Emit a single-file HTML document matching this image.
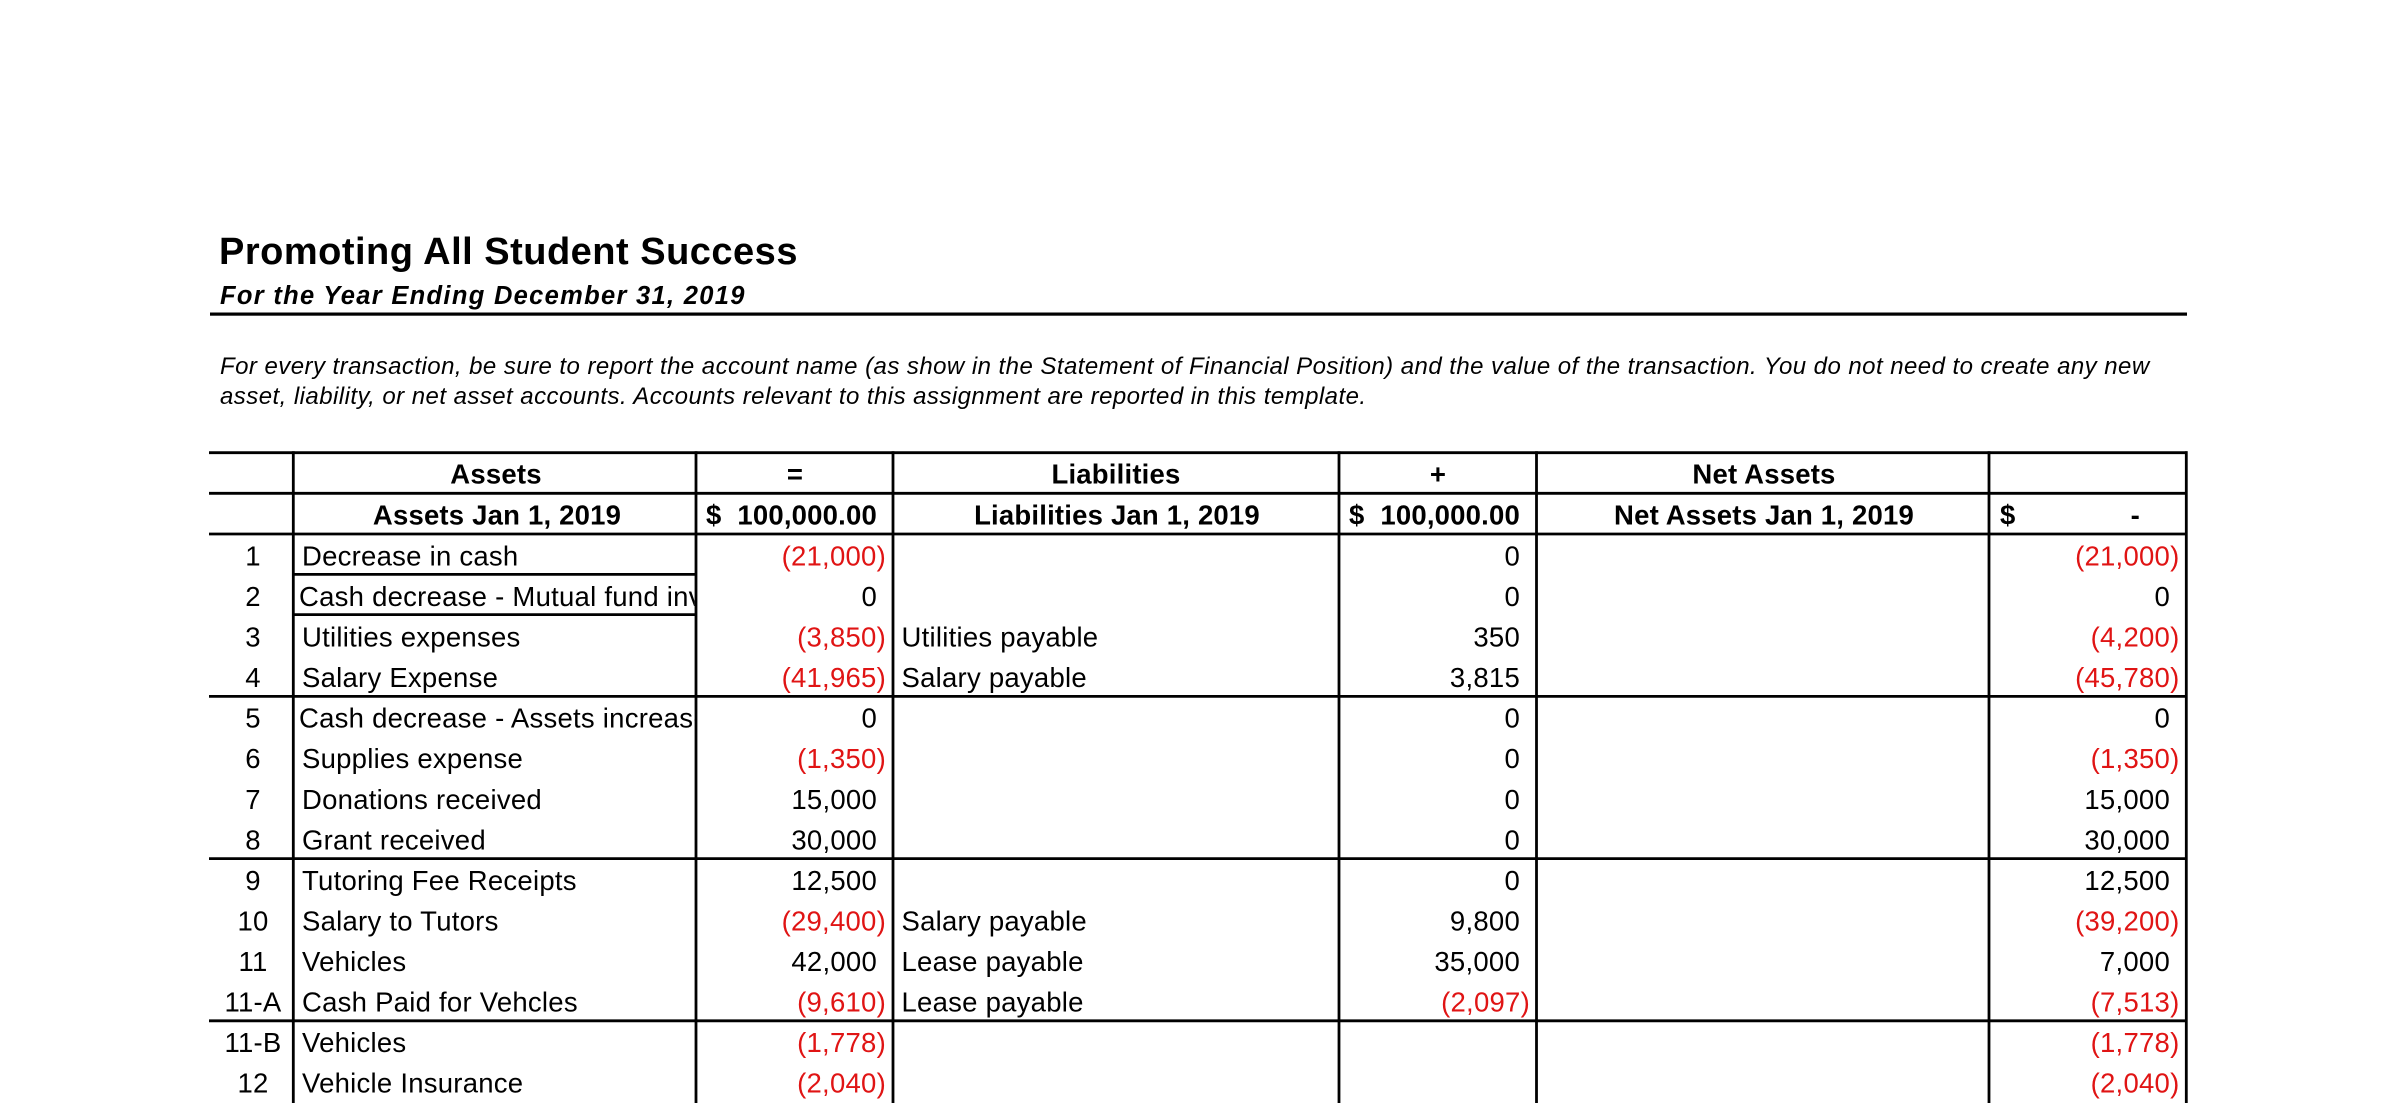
<!DOCTYPE html>
<html>
<head>
<meta charset="utf-8">
<style>
  html, body { margin: 0; padding: 0; background: #fff; }
  svg { display: block; }
  text { font-family: "Liberation Sans", Arial, sans-serif; fill: #000; }
  .t { font-size: 38px; font-weight: bold; letter-spacing: 0.5px; }
  .st { font-size: 25.5px; font-weight: bold; font-style: italic; letter-spacing: 1.3px; }
  .ins { font-size: 24px; font-style: italic; letter-spacing: 0.45px; }
  .h { font-size: 27.5px; font-weight: bold; letter-spacing: 0.2px; }
  .b { font-size: 27.5px; letter-spacing: 0.25px; }
  .r { fill: #e01414; }
  .m { text-anchor: middle; }
  .e { text-anchor: end; }
</style>
</head>
<body>
<svg width="2397" height="1103" viewBox="0 0 2397 1103" xmlns="http://www.w3.org/2000/svg">
  <defs>
    <clipPath id="lab"><rect x="295" y="440" width="399.5" height="700"/></clipPath>
  </defs>

  <!-- Title block -->
  <text class="t" x="219" y="264">Promoting All Student Success</text>
  <text class="st" x="220" y="304">For the Year Ending December 31, 2019</text>
  <rect x="210" y="312.5" width="1977" height="3.2" fill="#000"/>

  <text class="ins" x="220" y="374">For every transaction, be sure to report the account name (as show in the Statement of Financial Position) and the value of the transaction. You do not need to create any new</text>
  <text class="ins" x="220" y="404">asset, liability, or net asset accounts. Accounts relevant to this assignment are reported in this template.</text>

  <!-- Grid lines -->
  <g stroke="#000" stroke-width="2.8" fill="none">
    <line x1="209" y1="452.7" x2="2187.5" y2="452.7"/>
    <line x1="209" y1="493.3" x2="2187.5" y2="493.3"/>
    <line x1="209" y1="534" x2="2187.5" y2="534"/>
    <line x1="209" y1="696.4" x2="2187.5" y2="696.4"/>
    <line x1="209" y1="858.6" x2="2187.5" y2="858.6"/>
    <line x1="209" y1="1020.8" x2="2187.5" y2="1020.8"/>
    <line x1="293.5" y1="574.4" x2="696" y2="574.4"/>
    <line x1="293.5" y1="614.6" x2="696" y2="614.6"/>

    <line x1="293.3" y1="451.3" x2="293.3" y2="1103"/>
    <line x1="696" y1="451.3" x2="696" y2="1103"/>
    <line x1="893" y1="451.3" x2="893" y2="1103"/>
    <line x1="1339" y1="451.3" x2="1339" y2="1103"/>
    <line x1="1536.5" y1="451.3" x2="1536.5" y2="1103"/>
    <line x1="1989" y1="451.3" x2="1989" y2="1103"/>
    <line x1="2186.3" y1="451.3" x2="2186.3" y2="1103"/>
  </g>

  <!-- Header row 1 -->
  <text class="h m" x="496" y="483.5">Assets</text>
  <text class="h m" x="795" y="483.5">=</text>
  <text class="h m" x="1116" y="483.5">Liabilities</text>
  <text class="h m" x="1438" y="483.5">+</text>
  <text class="h m" x="1764" y="483.5">Net Assets</text>

  <!-- Header row 2 -->
  <text class="h m" x="497" y="524.5">Assets Jan 1, 2019</text>
  <text class="h" x="706" y="524.5">$</text>
  <text class="h e" x="877" y="524.5">100,000.00</text>
  <text class="h m" x="1117" y="524.5">Liabilities Jan 1, 2019</text>
  <text class="h" x="1349" y="524.5">$</text>
  <text class="h e" x="1520" y="524.5">100,000.00</text>
  <text class="h m" x="1764" y="524.5">Net Assets Jan 1, 2019</text>
  <text class="h" x="2000" y="524.5">$</text>
  <text class="h e" x="2140" y="524.5">-</text>

  <!-- Row numbers -->
  <text class="b m" x="253" y="565.5">1</text>
  <text class="b m" x="253" y="606">2</text>
  <text class="b m" x="253" y="646.6">3</text>
  <text class="b m" x="253" y="687.1">4</text>
  <text class="b m" x="253" y="727.7">5</text>
  <text class="b m" x="253" y="768.2">6</text>
  <text class="b m" x="253" y="808.8">7</text>
  <text class="b m" x="253" y="849.3">8</text>
  <text class="b m" x="253" y="889.9">9</text>
  <text class="b m" x="253" y="930.4">10</text>
  <text class="b m" x="253" y="971">11</text>
  <text class="b m" x="253" y="1011.5">11-A</text>
  <text class="b m" x="253" y="1052.1">11-B</text>
  <text class="b m" x="253" y="1092.6">12</text>

  <!-- Asset labels -->
  <g clip-path="url(#lab)">
    <text class="b" x="302" y="565.5">Decrease in cash</text>
    <text class="b" x="299" y="606">Cash decrease - Mutual fund investment</text>
    <text class="b" x="302" y="646.6">Utilities expenses</text>
    <text class="b" x="302" y="687.1">Salary Expense</text>
    <text class="b" x="299" y="727.7">Cash decrease - Assets increase</text>
    <text class="b" x="302" y="768.2">Supplies expense</text>
    <text class="b" x="302" y="808.8">Donations received</text>
    <text class="b" x="302" y="849.3">Grant received</text>
    <text class="b" x="302" y="889.9">Tutoring Fee Receipts</text>
    <text class="b" x="302" y="930.4">Salary to Tutors</text>
    <text class="b" x="302" y="971">Vehicles</text>
    <text class="b" x="302" y="1011.5">Cash Paid for Vehcles</text>
    <text class="b" x="302" y="1052.1">Vehicles</text>
    <text class="b" x="302" y="1092.6">Vehicle Insurance</text>
  </g>

  <!-- Asset amounts -->
  <text class="b e r" x="886" y="565.5">(21,000)</text>
  <text class="b e" x="877" y="606">0</text>
  <text class="b e r" x="886" y="646.6">(3,850)</text>
  <text class="b e r" x="886" y="687.1">(41,965)</text>
  <text class="b e" x="877" y="727.7">0</text>
  <text class="b e r" x="886" y="768.2">(1,350)</text>
  <text class="b e" x="877" y="808.8">15,000</text>
  <text class="b e" x="877" y="849.3">30,000</text>
  <text class="b e" x="877" y="889.9">12,500</text>
  <text class="b e r" x="886" y="930.4">(29,400)</text>
  <text class="b e" x="877" y="971">42,000</text>
  <text class="b e r" x="886" y="1011.5">(9,610)</text>
  <text class="b e r" x="886" y="1052.1">(1,778)</text>
  <text class="b e r" x="886" y="1092.6">(2,040)</text>

  <!-- Liability labels -->
  <text class="b" x="901.5" y="646.6">Utilities payable</text>
  <text class="b" x="901.5" y="687.1">Salary payable</text>
  <text class="b" x="901.5" y="930.4">Salary payable</text>
  <text class="b" x="901.5" y="971">Lease payable</text>
  <text class="b" x="901.5" y="1011.5">Lease payable</text>

  <!-- Liability amounts -->
  <text class="b e" x="1520" y="565.5">0</text>
  <text class="b e" x="1520" y="606">0</text>
  <text class="b e" x="1520" y="646.6">350</text>
  <text class="b e" x="1520" y="687.1">3,815</text>
  <text class="b e" x="1520" y="727.7">0</text>
  <text class="b e" x="1520" y="768.2">0</text>
  <text class="b e" x="1520" y="808.8">0</text>
  <text class="b e" x="1520" y="849.3">0</text>
  <text class="b e" x="1520" y="889.9">0</text>
  <text class="b e" x="1520" y="930.4">9,800</text>
  <text class="b e" x="1520" y="971">35,000</text>
  <text class="b e r" x="1530" y="1011.5">(2,097)</text>

  <!-- Net amounts -->
  <text class="b e r" x="2179.5" y="565.5">(21,000)</text>
  <text class="b e" x="2170" y="606">0</text>
  <text class="b e r" x="2179.5" y="646.6">(4,200)</text>
  <text class="b e r" x="2179.5" y="687.1">(45,780)</text>
  <text class="b e" x="2170" y="727.7">0</text>
  <text class="b e r" x="2179.5" y="768.2">(1,350)</text>
  <text class="b e" x="2170" y="808.8">15,000</text>
  <text class="b e" x="2170" y="849.3">30,000</text>
  <text class="b e" x="2170" y="889.9">12,500</text>
  <text class="b e r" x="2179.5" y="930.4">(39,200)</text>
  <text class="b e" x="2170" y="971">7,000</text>
  <text class="b e r" x="2179.5" y="1011.5">(7,513)</text>
  <text class="b e r" x="2179.5" y="1052.1">(1,778)</text>
  <text class="b e r" x="2179.5" y="1092.6">(2,040)</text>
</svg>
</body>
</html>
